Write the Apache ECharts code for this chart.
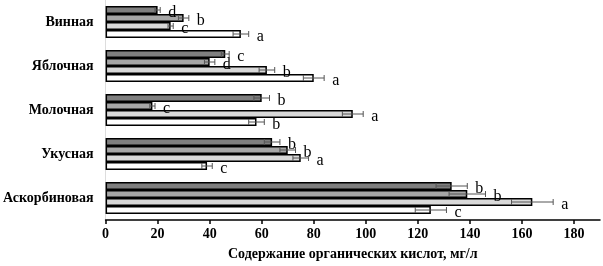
<!DOCTYPE html>
<html><head><meta charset="utf-8">
<script src="https://cdn.jsdelivr.net/npm/echarts@6/dist/echarts.min.js"></script>
<style>html,body{margin:0;padding:0;background:#fff}#c{width:603px;height:266px}</style>
</head><body><div id="c"></div>
<script>
const categories = ['Винная', 'Яблочная', 'Молочная', 'Укусная', 'Аскорбиновая'];
const s1Values = [20, 46, 60, 64, 133];
const s2Values = [30, 40, 18, 70, 139];
const s3Values = [25, 62, 95, 75, 164];
const s4Values = [52, 80, 58, 39, 125];
const s1Err = [1, 1.5, 3, 3, 6];
const s2Err = [2, 2, 1, 3, 7];
const s3Err = [1, 3, 4, 3, 8];
const s4Err = [3, 4, 3, 2, 6];
const s1Letters = ['d', 'c', 'b', 'b', 'b'];
const s2Letters = ['b', 'd', 'c', 'b', 'b'];
const s3Letters = ['c', 'b', 'a', 'a', 'a'];
const s4Letters = ['a', 'a', 'b', 'c', 'c'];
const xTicks = [0, 20, 40, 60, 80, 100, 120, 140, 160, 180];
const xTitle = 'Содержание органических кислот, мг/л';

const seriesVals = [s1Values, s2Values, s3Values, s4Values];
const seriesErr = [s1Err, s2Err, s3Err, s4Err];
const seriesLet = [s1Letters, s2Letters, s3Letters, s4Letters];
const colors = ['#7f7f7f', '#a6a6a6', '#d9d9d9', '#ffffff'];
const BW = 8;
const font = 'Liberation Serif';

const series = [];
seriesVals.forEach((vals, i) => {
  series.push({
    type: 'bar', barWidth: BW, barGap: '0%',
    data: vals,
    itemStyle: {color: colors[i], borderColor: '#000', borderWidth: 1.5},
    z: 2
  });
});
seriesVals.forEach((vals, i) => {
  const data = vals.map((v, k) => [v, k, seriesErr[i][k], seriesLet[i][k]]);
  series.push({
    type: 'custom', z: 5,
    data: data,
    encode: {x: 0, y: 1},
    renderItem: function (params, api) {
      const v = api.value(0), k = api.value(1), e = api.value(2);
      const letter = seriesLet[i][k];
      const c = api.coord([v, k]);
      const y = c[1] + (-12 + 8 * i);
      const x1 = api.coord([v - e, k])[0];
      const x2 = api.coord([v + e, k])[0];
      const st = {stroke: '#555', lineWidth: 1};
      return {type: 'group', children: [
        {type: 'line', shape: {x1: x1, y1: y, x2: x2, y2: y}, style: st},
        {type: 'line', shape: {x1: x1, y1: y - 3, x2: x1, y2: y + 3}, style: st},
        {type: 'line', shape: {x1: x2, y1: y - 3, x2: x2, y2: y + 3}, style: st},
        {type: 'text', x: x2 + 8, y: y + 3, style: {text: letter, fill: '#000', font: '16px "' + font + '"', textAlign: 'left', textVerticalAlign: 'middle'}}
      ]};
    }
  });
});

const chart = echarts.init(document.getElementById('c'), null, {renderer: 'canvas'});
chart.setOption({
  animation: false,
  backgroundColor: '#fff',
  grid: {left: 105, right: 3, top: -6, bottom: 45, containLabel: false},
  xAxis: {
    type: 'value', min: 0, max: 190, interval: 20,
    axisLine: {show: true, lineStyle: {color: '#000', width: 1.5}},
    axisTick: {show: true, length: 4, lineStyle: {color: '#000', width: 1.5}},
    splitLine: {show: false},
    axisLabel: {showMaxLabel: false, color: '#000', fontFamily: font, fontWeight: 'bold', fontSize: 14, margin: 7,
      formatter: v => xTicks.indexOf(v) >= 0 ? String(v) : ''},
    name: xTitle, nameLocation: 'middle', nameGap: 27,
    nameTextStyle: {color: '#000', fontFamily: font, fontWeight: 'bold', fontSize: 14}
  },
  yAxis: {
    type: 'category', data: categories, inverse: true,
    axisLine: {show: true, lineStyle: {color: '#ddd', width: 1}},
    axisTick: {show: false},
    axisLabel: {color: '#000', fontFamily: font, fontWeight: 'bold', fontSize: 14, margin: 12}
  },
  series: series
});
</script></body></html>
